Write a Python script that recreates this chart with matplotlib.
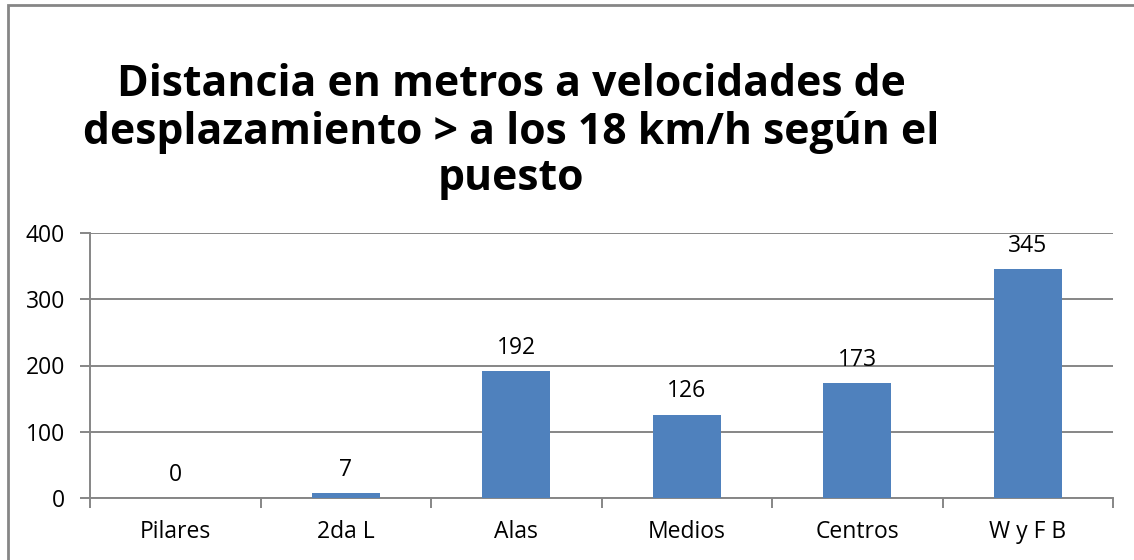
import matplotlib.pyplot as plt
from matplotlib.patches import Rectangle

puestos = ['Pilares', '2da L', 'Alas', 'Medios', 'Centros', 'W y F B']
distancia = [0, 7, 192, 126, 173, 345]
titulo = ['Distancia en metros a velocidades de',
          'desplazamiento > a los 18 km/h según el',
          'puesto']

plt.rcParams['font.family'] = ['Open Sans', 'DejaVu Sans']

fig = plt.figure(figsize=(11.34, 5.6), dpi=100)
ax = fig.add_axes([90 / 1134, 62 / 560, 1023 / 1134, 265 / 560])

gris = '#868686'
x = list(range(len(puestos)))
ax.bar(x, distancia, width=0.4, color='#4F81BD', zorder=3)
for xi, v in zip(x, distancia):
    ax.annotate(str(v), (xi, v), xytext=(0, 8), textcoords='offset points',
                ha='center', va='bottom', fontsize=16.5)

ax.set_xlim(-0.5, len(puestos) - 0.5)
ax.set_ylim(0, 400)
ax.set_yticks([0, 100, 200, 300, 400])
ax.yaxis.grid(True, color=gris, linewidth=1.4, zorder=0)
ax.set_xticks(x)
ax.set_xticklabels(puestos)
ax.set_xticks([i - 0.5 for i in range(len(puestos) + 1)], minor=True)
ax.tick_params(axis='x', which='major', length=0, pad=16, labelsize=16.5)
ax.tick_params(axis='x', which='minor', length=7, width=1.4, color=gris)
ax.tick_params(axis='y', length=7, width=1.4, color=gris, pad=11, labelsize=16.5)
for s in ['top', 'right']:
    ax.spines[s].set_visible(False)
for s in ['left', 'bottom']:
    ax.spines[s].set_color(gris)
    ax.spines[s].set_linewidth(1.4)

for i, linea in enumerate(titulo):
    fig.text(511 / 1134, 1 - (85 + 47 * i) / 560, linea, ha='center', va='center',
             fontsize=30.8, fontweight='bold')

fig.patches.append(Rectangle((8 / 1134, -0.1), 1.2, 1 - 5 / 560 + 0.1,
                             transform=fig.transFigure, fill=False,
                             edgecolor=gris, linewidth=2))

fig.savefig('out.png', dpi=100)
